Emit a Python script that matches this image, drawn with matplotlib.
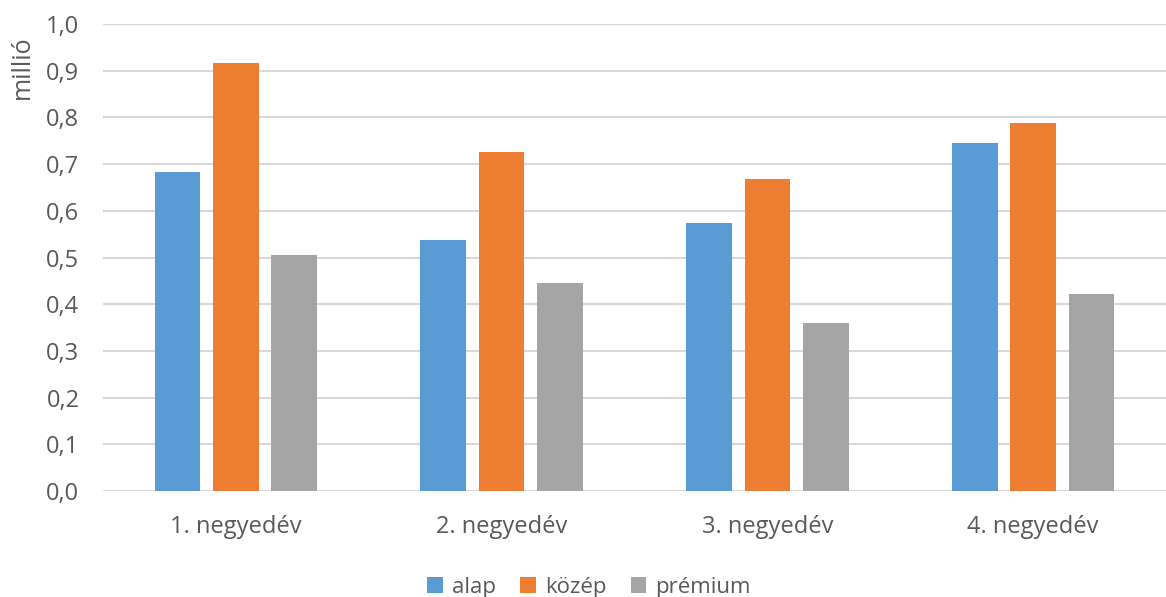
import matplotlib.pyplot as plt
import numpy as np

plt.rcParams['font.family'] = ['Open Sans', 'DejaVu Sans']

#==========================================Data=========================================
categories = ['1. negyedév', '2. negyedév', '3. negyedév', '4. negyedév']
series_names = ['alap', 'közép', 'prémium']
alap = [0.683, 0.537, 0.574, 0.745]
kozep = [0.917, 0.726, 0.668, 0.788]
premium = [0.505, 0.445, 0.360, 0.422]
y_ticks = [0.0, 0.1, 0.2, 0.3, 0.4, 0.5, 0.6, 0.7, 0.8, 0.9, 1.0]

colors = ['#5B9BD5', '#ED7D31', '#A5A5A5']
text_color = '#595959'

#==========================================Plot=========================================
fig = plt.figure(figsize=(11.66, 5.97), dpi=100)
ax = fig.add_axes([103 / 1166, 1 - 491 / 597, 1 - 103 / 1166, 467 / 597])

x = np.arange(len(categories))
width = 0.172
step = 0.22
for i, (name, vals) in enumerate(zip(series_names, [alap, kozep, premium])):
    ax.bar(x + (i - 1) * step, vals, width, color=colors[i], label=name, zorder=3)

ax.set_xlim(-0.5, 3.5)
ax.set_ylim(0, 1.0)
ax.set_yticks(y_ticks)
ax.set_yticklabels([f"{v:.1f}".replace('.', ',') for v in y_ticks])
ax.set_xticks(x)
ax.set_xticklabels(categories)
ax.yaxis.grid(True, color='#D9D9D9', linewidth=1.5, zorder=0)
for s in ax.spines.values():
    s.set_visible(False)
ax.tick_params(axis='both', length=0, colors=text_color, labelsize=17)
ax.tick_params(axis='y', pad=17)
ax.tick_params(axis='x', pad=17)

fig.text(22 / 1166, 1 - 67 / 597, 'millió', rotation=90, ha='center', va='center',
         fontsize=18, color=text_color)

ax.legend(loc='center', bbox_to_anchor=(589 / 1166, 1 - 587 / 597),
          bbox_transform=fig.transFigure, ncol=3, frameon=False,
          fontsize=16, labelcolor=text_color, handlelength=0.7, handleheight=0.7,
          handletextpad=0.4, columnspacing=1.1)

fig.savefig('out.png', dpi=100)
